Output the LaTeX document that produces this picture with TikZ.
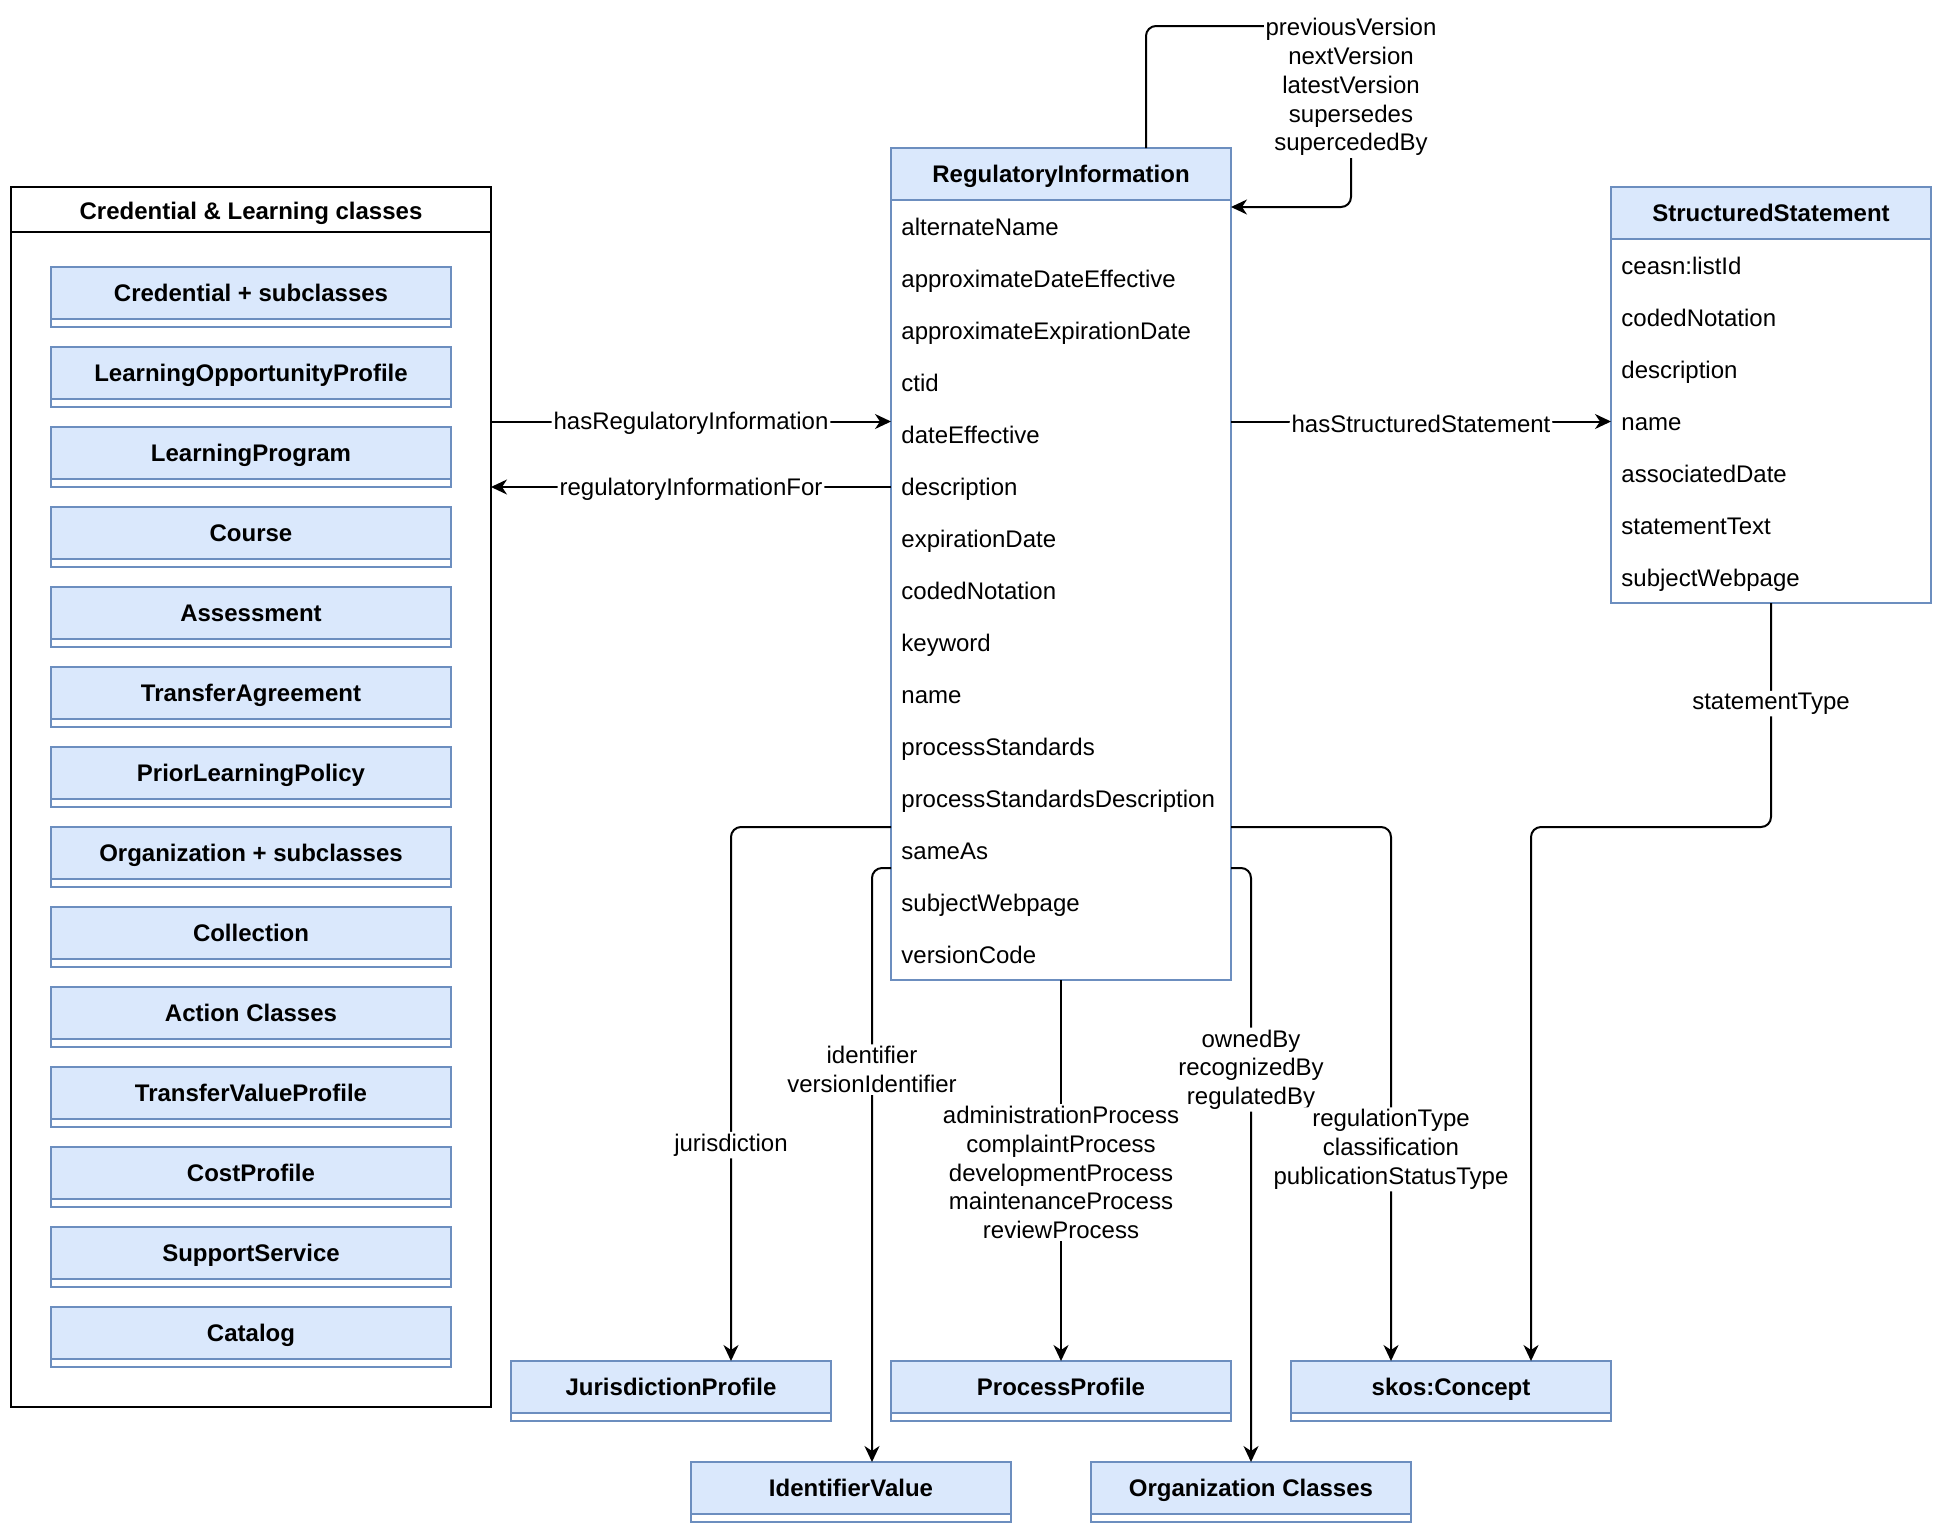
\documentclass[tikz,border=0pt]{standalone}
\usepackage{fontspec}
\setmainfont{Liberation Sans}
\usetikzlibrary{arrows.meta,positioning}
\definecolor{bleu}{HTML}{DAE8FC}
\definecolor{bord}{HTML}{6C8EBF}
\tikzset{
  every node/.style={font=\fontsize{12}{14.4}\selectfont},
  entete/.style={draw=bord, fill=bleu, line width=1pt, minimum height=26pt, inner sep=0pt, outer sep=0pt, text height=8.6pt, text depth=0pt, font=\fontsize{12}{14.4}\selectfont\bfseries},
  corps/.style={draw=bord, fill=white, line width=1pt, inner sep=0pt, outer sep=0pt, anchor=north},
  champ/.style={anchor=west, inner sep=0pt, text height=8.6pt, text depth=0pt},
  lien/.style={line width=1pt, rounded corners=5pt, -{Stealth[length=8pt,width=7.5pt,inset=2.5pt]}},
  etiq/.style={fill=white, inner sep=1pt, align=center, yshift=-1pt}
}
\begin{document}
\begin{tikzpicture}[x=1pt,y=-1pt]
    \useasboundingbox (0,0) rectangle (972,766);
    \def\classe#1#2#3#4#5{%nom, x, haut, largeur, texte
        \node [entete, minimum width=#4pt, anchor=north] (#1) at (#2,#3) {#5};
        \draw [draw=bord, fill=white, line width=1pt] (#1.south west) rectangle ([yshift=-4pt]#1.south east);}
    % cadre de gauche
    \node [draw, line width=1pt, minimum width=240pt, minimum height=610pt, inner sep=0pt, outer sep=0pt, anchor=north west] (cred) at (5.5,93.5) {};
    \node [font=\fontsize{12}{14.4}\selectfont\bfseries, text height=8.6pt, text depth=0pt] (credtitre) at (125.5,105.25) {Credential \& Learning classes};
    \draw [line width=1pt] ([yshift=-22.5pt]cred.north west) -- ([yshift=-22.5pt]cred.north east);
    \foreach \nom [count=\i] in {Credential + subclasses, LearningOpportunityProfile, LearningProgram, Course, Assessment, TransferAgreement, PriorLearningPolicy, Organization + subclasses, Collection, Action Classes, TransferValueProfile, CostProfile, SupportService, Catalog}
        \classe{c\i}{125.5}{93.5+40*\i}{200}{\nom}
    % RegulatoryInformation
    \node [entete, minimum width=170pt, anchor=north] (ri) at (530.5,74) {RegulatoryInformation};
    \node [corps, minimum width=170pt, minimum height=390pt] (ribody) at (ri.south) {};
    \foreach \nom [count=\i] in {alternateName, approximateDateEffective, approximateExpirationDate, ctid, dateEffective, description, expirationDate, codedNotation, keyword, name, processStandards, processStandardsDescription, sameAs, subjectWebpage, versionCode}
        \node [champ] (ri\i) at (450.5,87.5+26*\i) {\nom};
    % StructuredStatement
    \node [entete, minimum width=160pt, anchor=north] (ss) at (885.5,93.5) {StructuredStatement};
    \node [corps, minimum width=160pt, minimum height=182pt] (ssbody) at (ss.south) {};
    \foreach \nom [count=\i] in {ceasn:listId, codedNotation, description, name, associatedDate, statementText, subjectWebpage}
        \node [champ] (ss\i) at (810.5,107+26*\i) {\nom};
    % classes du bas
    \classe{jp}{335.5}{680.5}{160}{JurisdictionProfile}
    \classe{pp}{530.5}{680.5}{170}{ProcessProfile}
    \classe{skos}{725.5}{680.5}{160}{skos:Concept}
    \classe{iv}{425.5}{731}{160}{IdentifierValue}
    \classe{oc}{625.5}{731}{160}{Organization Classes}
    % liens
    \draw [lien] ([yshift=-117.25pt]cred.north east) -- node [etiq] {hasRegulatoryInformation} ([yshift=-110.75pt]ribody.north west);
    \draw [lien] ([yshift=-143.5pt]ribody.north west) -- node [etiq] {regulatoryInformationFor} ([yshift=-150pt]cred.north east);
    \draw [lien] ([yshift=-110.75pt]ribody.north east) -- node [etiq] {hasStructuredStatement} ([yshift=-91.25pt]ssbody.north west);
    \draw [lien] ([xshift=42.5pt]ri.north) |- (675.5,13) |- ([yshift=-3.5pt]ribody.north east);
    \node [etiq] (versions) at (675.5,42.5) {previousVersion\\nextVersion\\latestVersion\\supersedes\\supercededBy};
    \draw [lien] ([yshift=-313.5pt]ribody.north west) -| node [etiq, pos=0.796] {jurisdiction} ([xshift=30pt]jp.north);
    \draw [lien] ([yshift=-334pt]ribody.north west) -| node [etiq, pos=0.668] {identifier\\versionIdentifier} ([xshift=10.5pt]iv.north);
    \draw [lien] (ribody.south) -- node [etiq] {administrationProcess\\complaintProcess\\developmentProcess\\maintenanceProcess\\reviewProcess} (pp.north);
    \draw [lien] ([yshift=-334pt]ribody.north east) -| node [etiq, pos=0.668] {ownedBy\\recognizedBy\\regulatedBy} (oc.north);
    \draw [lien] ([yshift=-313.5pt]ribody.north east) -| node [etiq, pos=0.8] {regulationType\\classification\\publicationStatusType} ([xshift=-30pt]skos.north);
    \draw [lien] (ssbody.south) -- ++(0,112) node [etiq, pos=0.44] {statementType} -| ([xshift=40pt]skos.north);
\end{tikzpicture}
\end{document}
